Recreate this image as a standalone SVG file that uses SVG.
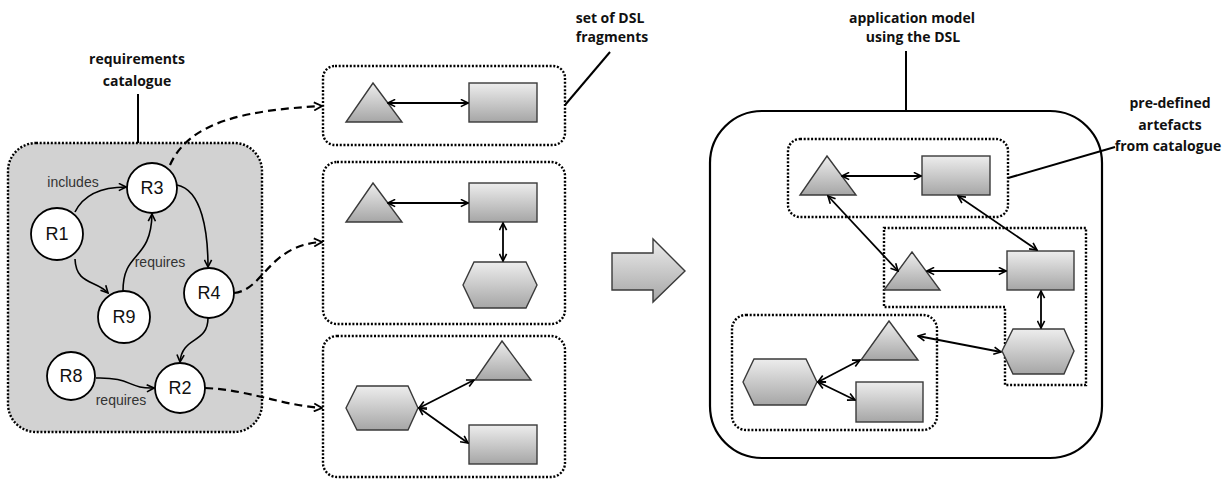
<svg xmlns="http://www.w3.org/2000/svg" width="1232" height="485" viewBox="0 0 1232 485">
  <defs>
    <linearGradient id="shade" x1="0" y1="0" x2="0" y2="1">
      <stop offset="0" stop-color="#ededed"/>
      <stop offset="1" stop-color="#a6a6a6"/>
    </linearGradient>
    <marker id="ah" viewBox="0 0 10 10" refX="9" refY="5" markerWidth="9" markerHeight="9" orient="auto-start-reverse" markerUnits="userSpaceOnUse">
      <path d="M1,1 L9,5 L1,9" fill="none" stroke="#000" stroke-width="1.8" stroke-linejoin="miter"/>
    </marker>
    <marker id="ahd" viewBox="0 0 10 10" refX="9" refY="5" markerWidth="10" markerHeight="10" orient="auto" markerUnits="userSpaceOnUse">
      <path d="M1,1 L9,5 L1,9" fill="none" stroke="#000" stroke-width="1.8"/>
    </marker>
  </defs>
  <style>
    .title { font-family: "Open Sans", "Liberation Sans", sans-serif; font-weight: 700; font-size: 14px; fill: #111; text-anchor: middle; }
    .lbl { font-family: "Liberation Sans", Arial, sans-serif; font-size: 14px; fill: #333; text-anchor: middle; }
    .rid { font-family: "Liberation Sans", Arial, sans-serif; font-size: 18px; fill: #111; text-anchor: middle; dominant-baseline: central; }
    .req { fill: #fff; stroke: #000; stroke-width: 1.8; }
    .shape { fill: url(#shade); stroke: #3a3a3a; stroke-width: 1.4; }
    .dotted { fill: #fff; stroke: #000; stroke-width: 2.4; stroke-dasharray: 2 1.7; }
    .edge { fill: none; stroke: #000; stroke-width: 1.6; marker-end: url(#ah); }
    .link { fill: none; stroke: #000; stroke-width: 1.8; marker-start: url(#ah); marker-end: url(#ah); }
    .dash { fill: none; stroke: #000; stroke-width: 2.2; stroke-dasharray: 8 5; marker-end: url(#ahd); }
    .lead { fill: none; stroke: #000; stroke-width: 2; }
  </style>

  <!-- requirements catalogue -->
  <g id="catalogue">
    <text class="title" x="137" y="64">requirements</text>
    <text class="title" x="137" y="86">catalogue</text>
    <line class="lead" x1="138" y1="94" x2="138" y2="143"/>
    <rect x="8" y="143" width="254" height="289" rx="28" fill="#d2d2d2" stroke="#000" stroke-width="2.4" stroke-dasharray="2 1.7"/>
  </g>

  <!-- catalogue edges -->
  <g id="catalogue-edges">
    <path class="edge" d="M75,212 C84,194 102,187 126,187"/>
    <path class="edge" d="M75,259 C76,285 96,280 108,293"/>
    <path class="edge" d="M123,291 C123,250 151,262 152,214"/>
    <path class="edge" d="M177,185 C202,190 208,232 208,267"/>
    <path class="edge" d="M208,318 C208,344 182,336 180,362"/>
    <path class="edge" d="M96,378 C132,377 128,389 154,388"/>
    <text class="lbl" x="73" y="187">includes</text>
    <text class="lbl" x="160" y="267">requires</text>
    <text class="lbl" x="121" y="405">requires</text>
  </g>

  <g id="R3"><circle class="req" cx="152" cy="188" r="25"/><text class="rid" x="152" y="188">R3</text></g>
  <g id="R1"><circle class="req" cx="57" cy="234" r="26"/><text class="rid" x="57" y="234">R1</text></g>
  <g id="R9"><circle class="req" cx="124" cy="317" r="26"/><text class="rid" x="124" y="317">R9</text></g>
  <g id="R4"><circle class="req" cx="209" cy="293" r="25"/><text class="rid" x="209" y="293">R4</text></g>
  <g id="R8"><circle class="req" cx="71" cy="376" r="24"/><text class="rid" x="71" y="376">R8</text></g>
  <g id="R2"><circle class="req" cx="180" cy="388" r="25"/><text class="rid" x="180" y="388">R2</text></g>

  <!-- requirement to fragment mapping -->
  <g id="mapping">
    <path class="dash" d="M170,165 C190,120 250,110 322,106"/>
    <path class="dash" d="M234,293 C264,290 268,245 322,242"/>
    <path class="dash" d="M205,388 C250,390 280,405 322,408"/>
  </g>

  <!-- set of DSL fragments -->
  <g id="fragments-label">
    <text class="title" x="610" y="23">set of DSL</text>
    <text class="title" x="612" y="42">fragments</text>
    <line class="lead" x1="610" y1="52" x2="565" y2="105"/>
  </g>

  <g id="fragment1">
    <rect class="dotted" x="323" y="66" width="242" height="79" rx="12"/>
    <polygon class="shape" points="373,83 402,122 346,122"/>
    <rect class="shape" x="469" y="83" width="68" height="39"/>
    <line class="link" x1="388" y1="103" x2="468" y2="103"/>
  </g>

  <g id="fragment2">
    <rect class="dotted" x="323" y="162" width="242" height="162" rx="14"/>
    <polygon class="shape" points="373,183 402,222 346,222"/>
    <rect class="shape" x="469" y="183" width="68" height="39"/>
    <polygon class="shape" points="463,285 474,262 526,262 537,285 526,308 474,308"/>
    <line class="link" x1="388" y1="203" x2="468" y2="203"/>
    <line class="link" x1="503" y1="223" x2="503" y2="261"/>
  </g>

  <g id="fragment3">
    <rect class="dotted" x="323" y="336" width="242" height="141" rx="14"/>
    <polygon class="shape" points="502,341 531,380 475,380"/>
    <polygon class="shape" points="346,408 357,386 408,386 418,408 408,430 357,430"/>
    <rect class="shape" x="469" y="425" width="68" height="39"/>
    <line class="link" x1="419" y1="408" x2="474" y2="380"/>
    <line class="link" x1="419" y1="408" x2="468" y2="443"/>
  </g>

  <!-- transformation arrow -->
  <g id="transform">
    <polygon class="shape" points="612,253 653,253 653,239 685,271 653,302 653,290 612,290"/>
  </g>

  <!-- application model -->
  <g id="app-model">
    <text class="title" x="912" y="23">application model</text>
    <text class="title" x="913" y="42">using the DSL</text>
    <line class="lead" x1="906" y1="51" x2="906" y2="111"/>
    <rect x="710" y="111" width="392" height="347" rx="52" fill="#fff" stroke="#000" stroke-width="2.2"/>
  </g>

  <g id="predefined-label">
    <text class="title" x="1170" y="108">pre-defined</text>
    <text class="title" x="1170" y="130">artefacts</text>
    <text class="title" x="1168" y="151">from catalogue</text>
    <line class="lead" x1="1008" y1="178" x2="1115" y2="147"/>
  </g>

  <g id="groupA">
    <rect class="dotted" x="788" y="139" width="220" height="78" rx="12"/>
    <polygon class="shape" points="827,156 856,195 800,195"/>
    <rect class="shape" x="922" y="156" width="68" height="39"/>
    <line class="link" x1="842" y1="176" x2="921" y2="176"/>
  </g>

  <g id="groupB">
    <polygon class="dotted" points="884,228 1086,228 1086,385 1005,385 1005,307 884,307"/>
    <polygon class="shape" points="912,252 940,290 884,290"/>
    <rect class="shape" x="1007" y="251" width="67" height="39"/>
    <polygon class="shape" points="1002,351 1013,329 1064,329 1074,351 1064,374 1013,374"/>
    <line class="link" x1="927" y1="271" x2="1006" y2="271"/>
    <line class="link" x1="1041" y1="291" x2="1041" y2="328"/>
  </g>

  <g id="groupC">
    <rect class="dotted" x="732" y="315" width="205" height="115" rx="14"/>
    <polygon class="shape" points="889,321 918,360 861,360"/>
    <polygon class="shape" points="743,382 754,359 806,359 817,382 806,405 754,405"/>
    <rect class="shape" x="856" y="382" width="67" height="40"/>
    <line class="link" x1="818" y1="382" x2="860" y2="360"/>
    <line class="link" x1="818" y1="382" x2="855" y2="400"/>
  </g>

  <!-- links between groups -->
  <g id="group-links">
    <line class="link" x1="828" y1="196" x2="898" y2="271"/>
    <line class="link" x1="958" y1="196" x2="1037" y2="250"/>
    <line class="link" x1="918" y1="336" x2="1001" y2="352"/>
  </g>
</svg>
